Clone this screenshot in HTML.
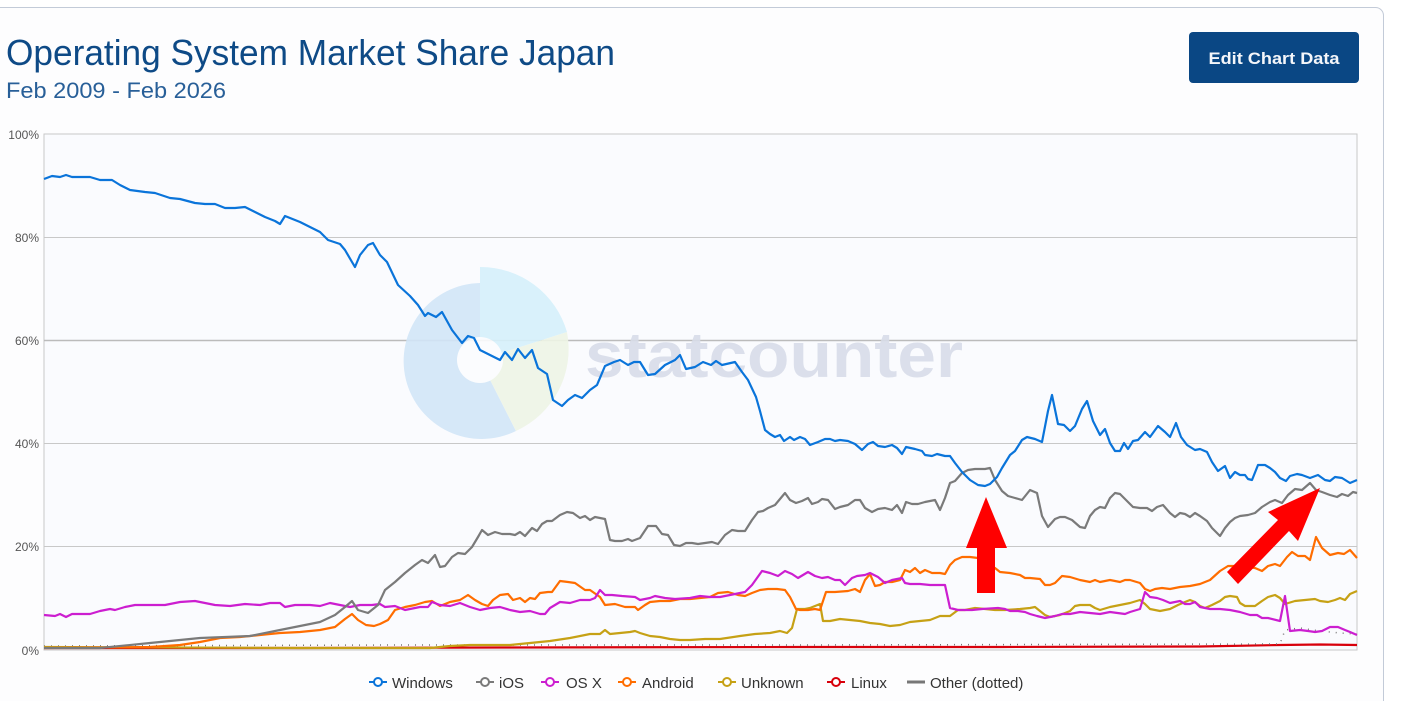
<!DOCTYPE html>
<html><head><meta charset="utf-8"><style>
html,body{margin:0;padding:0;background:#fff;}
svg{display:block;font-family:"Liberation Sans",sans-serif;}
</style></head><body>
<svg width="1417" height="701" viewBox="0 0 1417 701" xmlns="http://www.w3.org/2000/svg">
<rect x="0" y="0" width="1417" height="701" fill="#fff"/>
<rect x="-10" y="7.5" width="1393.5" height="710" rx="8" fill="#fdfdfe" stroke="#c3cbd8" stroke-width="1"/>
<text x="6" y="65" font-size="36" fill="#0e4a86" textLength="609" lengthAdjust="spacingAndGlyphs">Operating System Market Share Japan</text>
<text x="6" y="98" font-size="22" fill="#285f98" textLength="220" lengthAdjust="spacingAndGlyphs">Feb 2009 - Feb 2026</text>
<rect x="1189" y="32" width="170" height="51" rx="4" fill="#0a4784"/>
<text x="1274" y="64" font-size="17" font-weight="bold" fill="#f4f6fa" text-anchor="middle" textLength="131" lengthAdjust="spacingAndGlyphs">Edit Chart Data</text>
<rect x="44" y="134" width="1313" height="516" fill="#fafbfe" stroke="#c8c8c8"/>
<g stroke="#c8c8c8" stroke-width="1">
<line x1="44" y1="237.5" x2="1357" y2="237.5"/>
<line x1="44" y1="340.5" x2="1357" y2="340.5" stroke="#bbb" stroke-width="1.5"/>
<line x1="44" y1="443.5" x2="1357" y2="443.5"/>
<line x1="44" y1="546.5" x2="1357" y2="546.5"/>
</g>
<g font-size="12" fill="#555" text-anchor="end">
<text x="39" y="139">100%</text><text x="39" y="242">80%</text><text x="39" y="345">60%</text><text x="39" y="448">40%</text><text x="39" y="551">20%</text><text x="39" y="655">0%</text>
</g>
<!-- watermark -->
<g opacity="0.9">
<path d="M480 283 A78 78 0 1 0 516 431 L480 360 Z" fill="#d3e6f8"/>
<path d="M480 267 A90 90 0 0 1 567 332 L480 360 Z" fill="#d6f1fb"/>
<path d="M567 332 A90 90 0 0 1 516 431 L480 360 Z" fill="#eef5e6"/>
<circle cx="480" cy="360" r="23" fill="#fcfdfe"/>
<text x="585" y="377" font-size="64" font-weight="bold" fill="#d8dde9" textLength="378" lengthAdjust="spacingAndGlyphs">statcounter</text>
</g>
<g fill="none" stroke-width="2.2" stroke-linejoin="round">
<polyline stroke="#d8000b" points="44,648 300,648 500,647.5 800,647 1000,647 1200,646.5 1280,645 1320,644.5 1357,645"/>
<polyline stroke="#777" stroke-width="1.5" stroke-dasharray="1,6" points="44,646 400,645 800,645 1280,644 1285,630 1300,628 1320,631 1340,633 1357,634"/>
<polyline stroke="#c6a115" points="44,647 300,648 430,648 450,646 470,645 490,645 510,645 530,643 550,641 570,638 590,634 600,634 605,630 610,634 620,633 630,632 635,631 640,633 650,636 660,637 670,639 680,640 690,640 705,639 720,639 740,636 755,634 770,633 780,631 787,633 792,628 797,609 805,609 810,608 815,606 820,604 823,621 830,621 840,619 850,620 860,621 870,623 880,624 890,626 900,625 910,622 920,621 930,620 940,616 950,616 958,610 965,610 975,608 985,609 995,610 1005,610 1020,609 1030,608 1035,607 1040,611 1045,615 1050,617 1060,615 1070,611 1075,606 1080,605 1090,605 1095,608 1100,610 1110,607 1120,605 1130,603 1140,600 1145,604 1150,609 1160,611 1170,609 1178,605 1185,602 1190,600 1195,602 1200,606 1205,608 1212,605 1220,601 1225,597 1230,596 1237,597 1240,603 1245,606 1255,606 1262,601 1268,597 1275,595 1280,598 1285,604 1295,601 1305,600 1315,599 1320,601 1328,602 1335,600 1340,598 1345,600 1350,594 1357,591"/>
<polyline stroke="#ff6d00" points="44,648 150,647 180,645 200,642 220,638 240,637 260,635 280,633 300,632 320,630 335,627 345,619 352,614 358,620 366,625 374,626 380,624 388,620 395,610 405,607 415,605 425,602 432,601 440,606 450,602 460,600 468,595 475,600 482,604 488,606 493,600 500,595 508,594 513,600 520,598 525,602 530,598 535,599 540,593 548,592 552,592 560,581 568,582 575,583 585,590 590,590 600,597 605,605 615,604 625,607 635,607 638,610 645,605 650,602 660,601 670,601 680,599 690,599 700,598 710,597 718,593 728,592 738,595 745,596 752,593 760,590 768,589 777,589 785,590 790,597 796,609 800,610 808,610 815,609 820,610 826,592 835,592 848,591 855,589 860,592 865,580 870,574 875,586 880,585 885,582 892,582 900,580 905,570 910,572 915,568 920,573 925,570 932,573 940,573 945,574 950,565 955,560 962,557 970,557 978,558 985,561 990,566 995,568 1000,572 1010,573 1020,575 1025,578 1030,578 1040,579 1045,585 1050,585 1055,583 1062,576 1070,577 1080,580 1090,582 1095,580 1100,582 1110,580 1120,582 1125,580 1130,580 1140,583 1145,589 1150,591 1155,589 1162,588 1170,589 1180,587 1190,586 1200,584 1210,580 1220,571 1228,566 1235,566 1242,572 1248,567 1255,568 1262,571 1268,566 1275,564 1280,566 1287,557 1292,552 1298,556 1305,556 1310,560 1316,537 1322,548 1330,555 1338,553 1344,554 1350,550 1357,558"/>
<polyline stroke="#cc1ed0" points="44,615 55,616 60,614 66,617 72,614 90,614 100,611 110,609 115,610 125,607 135,605 150,605 165,605 180,602 195,601 205,603 215,605 230,606 245,604 260,605 270,603 280,603 285,607 295,605 310,605 320,606 330,603 340,605 350,607 360,605 372,605 380,604 385,607 395,606 405,610 415,608 420,607 428,607 432,602 440,605 450,606 460,603 470,607 480,610 490,608 500,607 510,610 520,612 530,611 540,614 545,614 550,608 560,602 570,603 580,600 590,600 595,598 600,590 605,595 612,595 622,596 635,597 640,600 650,598 655,596 665,598 675,599 690,598 700,596 710,597 720,597 730,595 740,593 745,592 752,585 762,571 770,573 778,576 785,571 792,574 798,578 808,572 815,576 822,578 828,577 835,580 840,580 845,585 852,578 857,576 865,575 870,573 878,577 885,583 892,580 902,578 905,583 910,584 920,584 930,585 945,585 950,608 958,610 972,610 982,609 998,608 1005,609 1010,611 1018,611 1025,612 1030,614 1037,616 1045,618 1055,616 1062,614 1070,614 1080,612 1090,613 1100,614 1110,612 1125,614 1130,612 1140,609 1145,592 1150,597 1157,598 1163,600 1170,603 1180,601 1185,604 1190,604 1195,602 1200,607 1210,609 1220,609 1230,610 1240,612 1250,615 1257,615 1262,618 1268,618 1280,621 1285,596 1290,631 1300,630 1308,631 1315,632 1322,631 1330,627 1338,627 1345,630 1350,632 1357,635"/>
<polyline stroke="#7a7a7a" points="44,648 100,648 150,643 200,638 250,636 280,630 300,626 320,622 335,615 345,607 352,601 358,610 368,613 378,605 385,590 395,582 405,573 415,565 422,560 428,563 435,555 440,567 445,566 452,557 458,553 465,554 472,547 478,537 482,530 488,535 495,532 502,534 510,534 515,535 520,532 525,536 532,528 537,531 542,524 547,521 552,521 560,515 567,512 573,513 580,518 585,516 590,520 595,517 605,519 610,540 615,541 622,541 628,539 632,541 640,538 648,526 656,526 662,534 668,535 674,545 680,546 686,543 692,543 698,544 705,543 712,542 718,544 725,535 732,530 738,531 745,531 752,520 758,512 763,511 768,508 775,505 785,493 790,500 796,503 802,501 808,498 812,504 818,502 822,499 828,500 835,509 840,507 848,505 855,500 860,500 865,508 872,512 878,509 885,508 892,510 897,505 902,513 906,502 912,504 918,504 925,502 935,500 940,510 945,498 950,483 955,481 962,473 968,470 975,469 985,469 990,468 995,480 1002,491 1008,496 1015,498 1022,500 1030,490 1037,493 1042,516 1048,527 1055,519 1060,517 1065,517 1072,520 1080,527 1085,528 1090,516 1095,510 1100,507 1105,508 1110,498 1115,493 1120,494 1127,501 1133,507 1140,508 1147,508 1152,511 1157,507 1163,505 1170,513 1175,517 1180,513 1185,514 1190,517 1195,513 1200,516 1207,521 1212,528 1220,536 1225,528 1230,522 1235,518 1240,516 1248,515 1255,513 1262,507 1270,502 1275,500 1282,503 1288,495 1295,489 1302,490 1310,483 1316,490 1322,492 1330,495 1337,497 1342,494 1348,496 1353,492 1357,493"/>
<polyline stroke="#0a74da" points="44,179 52,176 60,177 66,175 72,177 90,177 100,180 112,180 120,185 130,190 145,192 155,193 170,198 180,199 195,203 205,204 215,204 225,208 235,208 245,207 255,212 265,217 275,221 280,224 285,216 300,222 310,227 320,232 328,240 340,244 345,250 352,262 355,267 360,255 368,245 373,243 380,255 387,262 398,285 410,296 418,305 425,316 428,313 436,317 442,312 452,330 462,343 468,336 474,338 480,350 490,355 500,360 505,352 512,360 518,349 525,358 532,350 538,368 547,374 553,400 562,406 568,400 575,395 582,398 590,390 597,385 605,366 614,362 620,360 628,365 634,362 640,362 648,375 655,374 665,365 675,360 680,355 686,369 695,367 703,362 711,365 716,361 722,365 735,362 742,372 748,380 756,397 760,411 765,430 770,434 775,437 780,435 784,441 790,437 794,440 800,437 805,439 810,445 818,442 825,439 830,439 835,441 840,440 848,441 855,444 862,450 868,444 873,442 878,446 885,447 892,445 897,448 902,454 906,447 915,449 922,451 925,455 932,456 937,454 945,456 950,456 955,463 962,472 970,480 978,485 985,486 990,484 997,477 1002,468 1010,455 1015,451 1022,440 1027,437 1035,439 1042,442 1048,411 1052,395 1058,424 1064,425 1070,431 1075,426 1082,409 1087,401 1093,421 1100,435 1105,429 1110,443 1115,451 1120,451 1124,443 1128,449 1133,441 1138,440 1145,432 1150,437 1158,426 1165,432 1170,437 1176,423 1181,437 1187,445 1195,450 1200,449 1207,452 1212,462 1218,471 1225,466 1230,478 1235,472 1240,475 1245,475 1248,479 1252,480 1258,465 1265,465 1270,468 1275,472 1280,478 1286,481 1290,476 1297,474 1302,475 1310,478 1318,475 1325,480 1330,481 1335,477 1342,478 1350,483 1357,480"/>
</g>
<!-- arrows -->
<polygon fill="#ff0000" points="986,497 1007,548 995,548 995,593 977,593 977,548 966,548"/>
<polygon fill="#ff0000" points="1320,488 1298,541 1289,531 1238,584 1227,572 1278,520 1268,512"/>
<!-- legend -->
<g font-size="15" fill="#333">
<line x1="369" y1="682" x2="387" y2="682" stroke="#0a74da" stroke-width="2"/><circle cx="378" cy="682" r="4" fill="#fff" stroke="#0a74da" stroke-width="2"/><text x="392" y="688">Windows</text>
<line x1="476" y1="682" x2="494" y2="682" stroke="#7a7a7a" stroke-width="2"/><circle cx="485" cy="682" r="4" fill="#fff" stroke="#7a7a7a" stroke-width="2"/><text x="499" y="688">iOS</text>
<line x1="541" y1="682" x2="559" y2="682" stroke="#cc1ed0" stroke-width="2"/><circle cx="550" cy="682" r="4" fill="#fff" stroke="#cc1ed0" stroke-width="2"/><text x="566" y="688">OS X</text>
<line x1="618" y1="682" x2="636" y2="682" stroke="#ff6d00" stroke-width="2"/><circle cx="627" cy="682" r="4" fill="#fff" stroke="#ff6d00" stroke-width="2"/><text x="642" y="688">Android</text>
<line x1="718" y1="682" x2="736" y2="682" stroke="#c6a115" stroke-width="2"/><circle cx="727" cy="682" r="4" fill="#fff" stroke="#c6a115" stroke-width="2"/><text x="741" y="688">Unknown</text>
<line x1="827" y1="682" x2="845" y2="682" stroke="#d8000b" stroke-width="2"/><circle cx="836" cy="682" r="4" fill="#fff" stroke="#d8000b" stroke-width="2"/><text x="851" y="688">Linux</text>
<line x1="907" y1="682" x2="925" y2="682" stroke="#777" stroke-width="3"/><text x="930" y="688">Other (dotted)</text>
</g>
</svg>
</body></html>
